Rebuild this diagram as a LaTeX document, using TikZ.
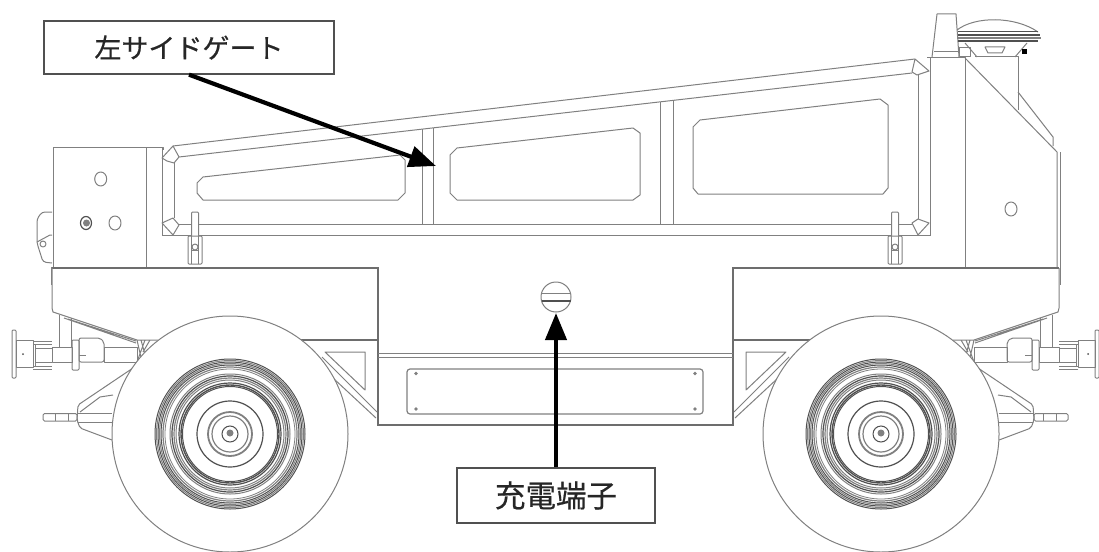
\documentclass[tikz,border=0pt]{standalone}
\usepackage{fontspec}
\usetikzlibrary{arrows.meta}
\newfontfamily\cjk[RawFeature={embolden=0.5}]{Noto Sans CJK JP}
\definecolor{ln}{HTML}{808080}
\definecolor{dk}{HTML}{505050}
\tikzset{
  thin line/.style={draw=ln,line width=1pt,line join=round},
  heavy line/.style={draw=ln!85!black,line width=2.2pt},
  dark line/.style={draw=dk,line width=1pt},
  labelbox/.style={draw=dk,line width=1.3pt,fill=white,font=\cjk,text=black!85,inner sep=0pt},
  pointer/.style={draw=black,line width=4.2pt,-{Triangle[length=27pt,width=21pt]}},
}
\newcommand{\latchat}[1]{%
  \begin{scope}[shift={(#1,0)}]
    \draw[thin line,fill=white,rounded corners=1pt] (-3.5,236) -- (-3.5,212) -- (3.5,212) -- (3.5,236);
    \draw[thin line,rounded corners=1pt] (-7,236) rectangle (7,264);
    \draw[thin line] (-3.5,236) -- (-3.5,264) (3.5,236) -- (3.5,264) (-3.5,250) -- (3.5,250);
    \draw[thin line] (0,247) circle[radius=3pt];
  \end{scope}}
\newcommand{\wheelat}[1]{%
  \begin{scope}[shift={(#1,434)}]
    \draw[thin line,fill=white] (0,0) circle[radius=118pt];
    \foreach \r/\c/\w in {75/dk/1,73.5/ln/1,72/dk/1,70.5/ln/1,69/dk/1,67/ln/1.2,65/ln/.8,60/ln/1,58/dk/1.2,56/ln/1.2,54/ln/1,51/dk/1.2,49/dk/1.4,47.5/dk/1,33/dk/1.2,22/ln/1.8,18/ln/1.2,8/dk/1}
      \draw[draw=\c,line width=\w pt] (0,0) circle[radius=\r pt];
    \fill[ln] (0,-1) circle[radius=3.5pt];
  \end{scope}}
\newcommand{\chassisend}{%
  % rear coupling
  \draw[thin line,rounded corners=1pt] (12,330) rectangle (16,378);
  \draw[thin line] (16,340) rectangle (33,367);
  \fill[dk] (23,354) circle[radius=1pt];
  \draw[thin line] (33,341) -- (52,341) (33,344) -- (52,344) (33,366) -- (52,366) (33,369) -- (52,369);
  \draw[thin line] (35,344) -- (35,366) (35,348) -- (52,348) (35,362) -- (52,362);
  \draw[thin line] (52,347) rectangle (72,362);
  \draw[thin line,rounded corners=1pt] (72,340) rectangle (79,370);
  \draw[thin line,rounded corners=2pt] (79,362) -- (79,338) -- (100,338) -- (104,342) -- (104,362) -- cycle;
  \draw[thin line] (79,355) -- (86,355);
  \draw[thin line] (104,347) rectangle (137,362);
  \draw[thin line] (59,315) -- (59,347) (71,318) -- (71,347);
  \draw[thin line] (137,340) -- (142,362) (141,340) -- (146,358) (145,340) -- (137,362) (137,340) -- (158,340) (150,340) -- (143,352);
  % body underside
  \draw[thin line] (52,268) -- (52,308) -- (53,312) -- (137,340);
  \draw[thin line] (64,318) -- (136,343) (68,319) -- (136,341);
  \draw[thin line] (51,267) -- (51,285);
  % tow bar
  \draw[thin line,rounded corners=2pt] (133,368) -- (78,405) -- (77,420) -- (80,428) -- (112,440);
  \draw[thin line] (113,395) -- (100,397) -- (80,412);
  \draw[thin line] (78,413) -- (112,413) (78,422) -- (112,422);
  \draw[thin line,rounded corners=1.5pt] (43,413.5) rectangle (77,421);
  \draw[thin line] (55,413.5) -- (55,421) (68,413.5) -- (68,421);
  % gusset
  \draw[thin line] (325,352) -- (365,352) -- (365,390) -- cycle;
  \draw[thin line] (322,357) -- (377,412) (333,378) -- (376,418);
  \draw[heavy line,line width=1.4pt] (300,340) -- (378,340);
}
\begin{document}
\begin{tikzpicture}[x=1pt,y=-1pt]
\useasboundingbox (0,0) rectangle (1099,551);
\fill[white] (0,0) rectangle (1099,551);

% left box and handle
\draw[thin line] (53,267) -- (53,147) -- (163,147) -- (163,150);
\draw[thin line] (146.5,147) -- (146.5,268);
\draw[thin line] (162,147) -- (162,235);
\draw[thin line,rounded corners=3pt] (52,212) -- (42,212) -- (37,219) -- (37,243) -- (43,262) -- (52,263);
\draw[thin line] (37,242) -- (50,235) -- (52,235);
\draw[thin line] (43,244) circle[radius=3pt];
\draw[thin line] (100.7,179) ellipse[x radius=6pt,y radius=7pt];
\draw[thin line] (115,223) ellipse[x radius=6pt,y radius=7pt];
\draw[dark line,line width=1.2pt] (86,223) ellipse[x radius=5.5pt,y radius=6.5pt];
\fill[ln] (86.5,223) circle[radius=3.5pt];

% side gate
\draw[thin line] (173,146) -- (915,59);
\draw[thin line] (179,157) -- (912,73);
\draw[thin line] (179,224) -- (912,224);
\draw[thin line] (162,235.5) -- (930,235.5);
\draw[thin line] (174,163) -- (174,218);
\draw[thin line] (918,75) -- (918,219);
\draw[thin line] (930,58) -- (930,235.5);
\draw[thin line] (162,158) -- (173,146) -- (179,157) -- (174,163) -- (167,161) -- cycle;
\draw[thin line] (162,223) -- (173,218) -- (179,225) -- (173,235) -- cycle;
\draw[thin line] (912,72) -- (915,59) -- (929,71) -- (917,75) -- cycle;
\draw[thin line] (912,223) -- (918,219) -- (929,223) -- (918,235) -- cycle;
\draw[thin line] (422,129) -- (422,224) (433,128) -- (433,224);
\draw[thin line] (660,102) -- (660,224) (673,100) -- (673,224);
% gate windows
\draw[thin line] (203,177) -- (400,155) -- (405,160) -- (405,193) -- (398,200) -- (203,200) -- (197,193) -- (197,183) -- cycle;
\draw[thin line] (457,148) -- (633,128) -- (640,133) -- (640,195) -- (633,200) -- (457,200) -- (450,193) -- (450,155) -- cycle;
\draw[thin line] (700,120) -- (880,99) -- (888,105) -- (888,188) -- (883,194) -- (698,194) -- (693,188) -- (693,127) -- cycle;
\latchat{195}
\latchat{895}

% right tower
\draw[thin line] (927,58) -- (965,58) -- (965,268);
\draw[thin line] (932,57) -- (937,14) -- (956,14) -- (959,57);
\draw[thin line] (934,52) -- (958,52);
\draw[thin line] (965,58) -- (1057,152) -- (1057,268);
\draw[thin line] (1060,152) -- (1060,268);
\draw[thin line] (975,57) -- (1018,57) -- (1018,110);
\draw[thin line] (1018,92) -- (1053,137) -- (1053,146);
\draw[thin line] (1011,209) ellipse[x radius=6pt,y radius=7pt];
% antenna
\draw[thin line] (957,30) .. controls (975,16) and (1015,16) .. (1038,32);
\draw[draw=dk,line width=1pt] (958,32) -- (1038,32);
\draw[draw=dk,line width=1.3pt] (958,35) -- (1040,35);
\draw[draw=ln,line width=1.4pt] (958,38) -- (1041,38);
\draw[draw=dk,line width=1.2pt] (958,41) -- (1038,41);
\draw[thin line] (965,43) -- (977,57) (1027,43) -- (1015,57);
\draw[thin line] (985,47) -- (1005,47) -- (1002,53) -- (988,53) -- cycle;
\fill[black] (1022,49) rectangle (1027,54);
\draw[thin line] (959,48) rectangle (970,57);

% chassis
\draw[heavy line] (52,268) -- (378,268) -- (378,425);
\draw[heavy line] (1059,268) -- (733,268) -- (733,425);
\draw[heavy line,line width=1.5pt] (377,425) -- (734,425);
\draw[thin line] (378,353) -- (733,353) (378,357) -- (733,357);
\draw[thin line,line width=1.2pt,rounded corners=3pt] (407,369) rectangle (703,414);
\foreach \sx/\sy in {416/373.5,416/409,695/373.5,695/409}
  \fill[ln] (\sx,\sy) circle[radius=1.8pt];
\draw[thin line] (556,297) circle[radius=15pt];
\draw[thin line] (541.5,293) -- (570.5,293);
\draw[draw=dk,line width=1.6pt] (541.5,301) -- (570.5,301);

\chassisend
\begin{scope}[shift={(1111,0)},xscale=-1]
  \chassisend
\end{scope}
\wheelat{230}
\wheelat{881}

% labels and pointers
\node[labelbox,minimum width=290pt,minimum height=53pt,font=\cjk\fontsize{27}{30}\selectfont] (gatelabel) at (189,47.5) {左サイドゲート};
\node[labelbox,minimum width=198pt,minimum height=55pt,font=\cjk\fontsize{30.5}{34}\selectfont] (chargelabel) at (556,495.5) {充電端子};
\coordinate (gatepoint) at (436,166);
\coordinate (chargepoint) at (556,313);
\draw[pointer] (gatelabel.south) -- (gatepoint);
\draw[pointer] (chargelabel.north) -- (chargepoint);
\end{tikzpicture}
\end{document}
